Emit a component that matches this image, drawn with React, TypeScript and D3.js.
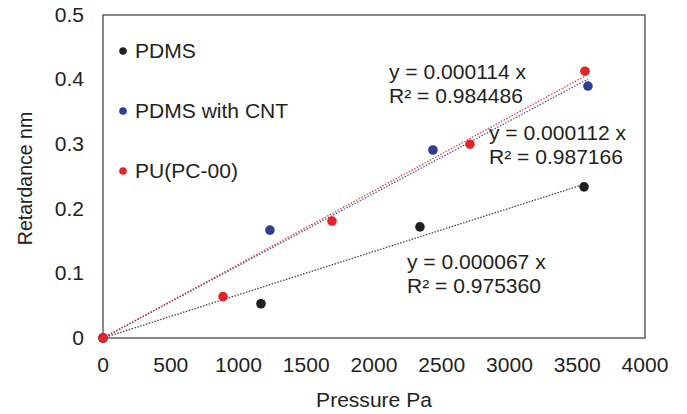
import React from "react";
import * as d3 from "d3";

const pdmsX = [0, 1166, 2339, 3550];
const pdmsY = [0, 0.053, 0.172, 0.234];
const cntX = [0, 1232, 2435, 3579];
const cntY = [0, 0.167, 0.291, 0.390];
const puX = [0, 886, 1690, 2708, 3557];
const puY = [0, 0.064, 0.181, 0.300, 0.413];

const slopePdms = 0.000067;
const slopeCnt = 0.000112;
const slopePu = 0.000114;

const xTicks = [0, 500, 1000, 1500, 2000, 2500, 3000, 3500, 4000];
const yTicks = [0, 0.1, 0.2, 0.3, 0.4, 0.5];

const legendLabels = ["PDMS", "PDMS with CNT", "PU(PC-00)"];
const colors = ["#231f20", "#2e3f92", "#e2232a"];

const eqPu = ["y = 0.000114 x", "R² = 0.984486"];
const eqCnt = ["y = 0.000112 x", "R² = 0.987166"];
const eqPdms = ["y = 0.000067 x", "R² = 0.975360"];

const SX = 1.08;

function T(props: { x: number; y: number; anchor?: string; dy?: string; fs: number; children: any }) {
  return (
    <text
      transform={`translate(${props.x},${props.y}) scale(${SX},1)`}
      textAnchor={props.anchor || "start"}
      dy={props.dy}
      fontSize={props.fs}
      fill="#231f20"
    >
      {props.children}
    </text>
  );
}

export default function App() {
  const W = 687, H = 414;
  const L = 103, R = 645, Tp = 15, B = 338;
  const x = d3.scaleLinear().domain([0, 4000]).range([L, R]);
  const y = d3.scaleLinear().domain([0, 0.5]).range([B, Tp]);
  const font = "'Liberation Sans', Arial, sans-serif";
  const fs = 19.5;

  const series = [
    { xs: pdmsX, ys: pdmsY, slope: slopePdms, c: colors[0] },
    { xs: cntX, ys: cntY, slope: slopeCnt, c: colors[1] },
    { xs: puX, ys: puY, slope: slopePu, c: colors[2] },
  ];
  const line = d3.line<number[]>().x((d) => x(d[0])).y((d) => y(d[1]));

  const eqs = [
    { t: eqPu, x: 389, y: 79 },
    { t: eqCnt, x: 489, y: 140 },
    { t: eqPdms, x: 407, y: 269 },
  ];

  return (
    <svg width={W} height={H} style={{ position: "absolute", left: 0, top: 0, background: "#fff" }} fontFamily={font}>
      <rect x={0} y={0} width={W} height={H} fill="#fff" />
      <rect x={L} y={Tp} width={R - L} height={B - Tp} fill="none" stroke="#555" strokeWidth={1.4} />
      {series.map((s, i) => {
        const xmax = d3.max(s.xs) as number;
        return (
          <path
            key={"tl" + i}
            d={line([[0, 0], [xmax, s.slope * xmax]]) || ""}
            stroke={s.c}
            strokeWidth={1.3}
            strokeDasharray="1.5 1.5"
            fill="none"
            opacity={0.85}
          />
        );
      })}
      {series.map((s, i) =>
        s.xs.map((xv, j) => (
          <circle key={"p" + i + "-" + j} cx={x(xv)} cy={y(s.ys[j])} r={4.8} fill={s.c} />
        ))
      )}
      {yTicks.map((t) => (
        <T key={"yt" + t} x={L - 19} y={y(t)} dy="0.35em" anchor="end" fs={fs}>
          {t === 0 ? "0" : d3.format(".1f")(t)}
        </T>
      ))}
      {xTicks.map((t) => (
        <T key={"xt" + t} x={x(t)} y={372} anchor="middle" fs={fs}>
          {t}
        </T>
      ))}
      <T x={374} y={407} anchor="middle" fs={fs}>Pressure Pa</T>
      <text transform={`translate(32,${(Tp + B) / 2 + 2}) rotate(-90)`} textAnchor="middle" fontSize={fs} fill="#231f20">
        Retardance  nm
      </text>
      {legendLabels.map((lab, i) => (
        <g key={"lg" + i}>
          <circle cx={123} cy={51 + i * 60} r={3.8} fill={colors[i]} />
          <T x={135} y={51 + i * 60} dy="0.35em" fs={fs}>{lab}</T>
        </g>
      ))}
      {eqs.map((e, i) => (
        <g key={"eq" + i}>
          <T x={e.x} y={e.y} fs={fs}>{e.t[0]}</T>
          <T x={e.x} y={e.y + 24} fs={fs}>{e.t[1]}</T>
        </g>
      ))}
    </svg>
  );
}
